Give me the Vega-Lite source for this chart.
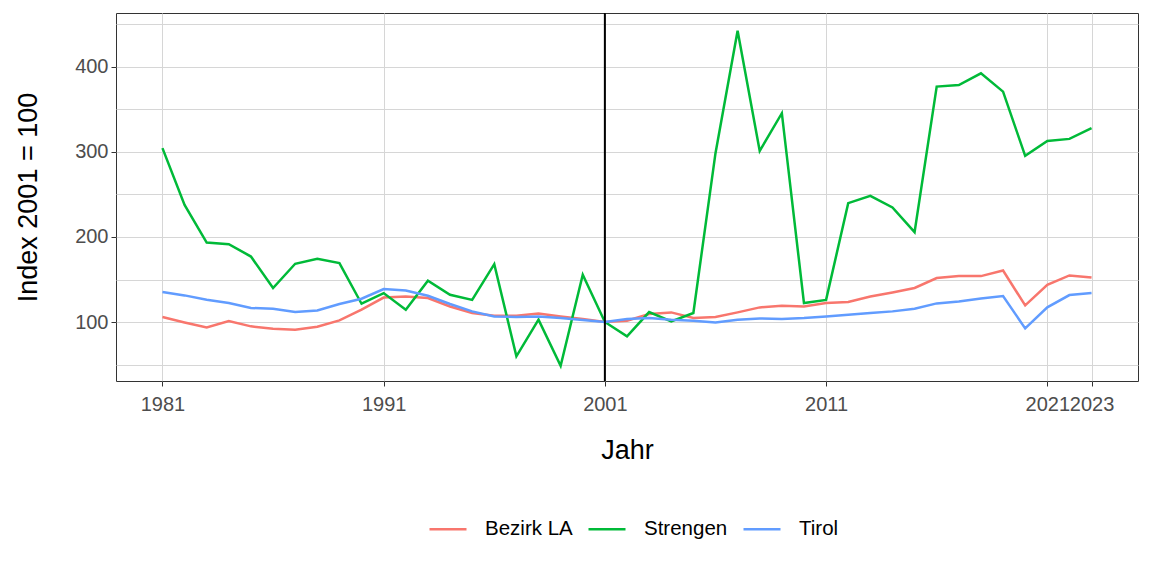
{
  "$schema": "https://vega.github.io/schema/vega-lite/v6.json",
  "width": 1022,
  "height": 368,
  "autosize": {"type": "none"},
  "padding": {"left": 116, "top": 13, "right": 14, "bottom": 195},
  "background": "white",
  "config": {
    "font": "Liberation Sans",
    "view": {"stroke": "#333333", "strokeWidth": 1},
    "axis": {
      "gridColor": "#D6D6D6",
      "gridWidth": 1,
      "domain": false,
      "tickColor": "#333333",
      "tickSize": 5,
      "tickWidth": 1,
      "labelFont": "Liberation Sans",
      "labelFontSize": 20,
      "labelColor": "#4D4D4D",
      "labelOverlap": false,
      "titleFont": "Liberation Sans",
      "titleFontSize": 27,
      "titleFontWeight": "normal",
      "titleColor": "black"
    }
  },
  "layer": [
    {
      "data": {
        "values": [
          {"Jahr": 1981, "Region": "Bezirk LA", "Index": 105.9},
          {"Jahr": 1982, "Region": "Bezirk LA", "Index": 99.5},
          {"Jahr": 1983, "Region": "Bezirk LA", "Index": 93.7},
          {"Jahr": 1984, "Region": "Bezirk LA", "Index": 101.2},
          {"Jahr": 1985, "Region": "Bezirk LA", "Index": 94.9},
          {"Jahr": 1986, "Region": "Bezirk LA", "Index": 92.0},
          {"Jahr": 1987, "Region": "Bezirk LA", "Index": 91.0},
          {"Jahr": 1988, "Region": "Bezirk LA", "Index": 94.5},
          {"Jahr": 1989, "Region": "Bezirk LA", "Index": 101.9},
          {"Jahr": 1990, "Region": "Bezirk LA", "Index": 114.5},
          {"Jahr": 1991, "Region": "Bezirk LA", "Index": 128.7},
          {"Jahr": 1992, "Region": "Bezirk LA", "Index": 130.0},
          {"Jahr": 1993, "Region": "Bezirk LA", "Index": 128.2},
          {"Jahr": 1994, "Region": "Bezirk LA", "Index": 118.3},
          {"Jahr": 1995, "Region": "Bezirk LA", "Index": 110.6},
          {"Jahr": 1996, "Region": "Bezirk LA", "Index": 107.4},
          {"Jahr": 1997, "Region": "Bezirk LA", "Index": 107.4},
          {"Jahr": 1998, "Region": "Bezirk LA", "Index": 110.0},
          {"Jahr": 1999, "Region": "Bezirk LA", "Index": 106.6},
          {"Jahr": 2000, "Region": "Bezirk LA", "Index": 103.5},
          {"Jahr": 2001, "Region": "Bezirk LA", "Index": 100.0},
          {"Jahr": 2002, "Region": "Bezirk LA", "Index": 101.5},
          {"Jahr": 2003, "Region": "Bezirk LA", "Index": 109.4},
          {"Jahr": 2004, "Region": "Bezirk LA", "Index": 111.3},
          {"Jahr": 2005, "Region": "Bezirk LA", "Index": 104.7},
          {"Jahr": 2006, "Region": "Bezirk LA", "Index": 105.9},
          {"Jahr": 2007, "Region": "Bezirk LA", "Index": 111.3},
          {"Jahr": 2008, "Region": "Bezirk LA", "Index": 117.2},
          {"Jahr": 2009, "Region": "Bezirk LA", "Index": 119.2},
          {"Jahr": 2010, "Region": "Bezirk LA", "Index": 118.3},
          {"Jahr": 2011, "Region": "Bezirk LA", "Index": 122.3},
          {"Jahr": 2012, "Region": "Bezirk LA", "Index": 123.5},
          {"Jahr": 2013, "Region": "Bezirk LA", "Index": 130.0},
          {"Jahr": 2014, "Region": "Bezirk LA", "Index": 134.8},
          {"Jahr": 2015, "Region": "Bezirk LA", "Index": 140.0},
          {"Jahr": 2016, "Region": "Bezirk LA", "Index": 151.7},
          {"Jahr": 2017, "Region": "Bezirk LA", "Index": 154.0},
          {"Jahr": 2018, "Region": "Bezirk LA", "Index": 154.0},
          {"Jahr": 2019, "Region": "Bezirk LA", "Index": 160.6},
          {"Jahr": 2020, "Region": "Bezirk LA", "Index": 119.5},
          {"Jahr": 2021, "Region": "Bezirk LA", "Index": 143.8},
          {"Jahr": 2022, "Region": "Bezirk LA", "Index": 154.8},
          {"Jahr": 2023, "Region": "Bezirk LA", "Index": 152.4},
          {"Jahr": 1981, "Region": "Strengen", "Index": 304.5},
          {"Jahr": 1982, "Region": "Strengen", "Index": 237.8},
          {"Jahr": 1983, "Region": "Strengen", "Index": 193.5},
          {"Jahr": 1984, "Region": "Strengen", "Index": 191.6},
          {"Jahr": 1985, "Region": "Strengen", "Index": 177.0},
          {"Jahr": 1986, "Region": "Strengen", "Index": 140.0},
          {"Jahr": 1987, "Region": "Strengen", "Index": 168.5},
          {"Jahr": 1988, "Region": "Strengen", "Index": 174.4},
          {"Jahr": 1989, "Region": "Strengen", "Index": 169.3},
          {"Jahr": 1990, "Region": "Strengen", "Index": 121.5},
          {"Jahr": 1991, "Region": "Strengen", "Index": 134.0},
          {"Jahr": 1992, "Region": "Strengen", "Index": 114.5},
          {"Jahr": 1993, "Region": "Strengen", "Index": 148.5},
          {"Jahr": 1994, "Region": "Strengen", "Index": 132.0},
          {"Jahr": 1995, "Region": "Strengen", "Index": 126.0},
          {"Jahr": 1996, "Region": "Strengen", "Index": 168.0},
          {"Jahr": 1997, "Region": "Strengen", "Index": 59.6},
          {"Jahr": 1998, "Region": "Strengen", "Index": 102.7},
          {"Jahr": 1999, "Region": "Strengen", "Index": 48.6},
          {"Jahr": 2000, "Region": "Strengen", "Index": 155.6},
          {"Jahr": 2001, "Region": "Strengen", "Index": 100.0},
          {"Jahr": 2002, "Region": "Strengen", "Index": 83.1},
          {"Jahr": 2003, "Region": "Strengen", "Index": 111.7},
          {"Jahr": 2004, "Region": "Strengen", "Index": 100.7},
          {"Jahr": 2005, "Region": "Strengen", "Index": 110.6},
          {"Jahr": 2006, "Region": "Strengen", "Index": 298.6},
          {"Jahr": 2007, "Region": "Strengen", "Index": 442.7},
          {"Jahr": 2008, "Region": "Strengen", "Index": 301.3},
          {"Jahr": 2009, "Region": "Strengen", "Index": 345.6},
          {"Jahr": 2010, "Region": "Strengen", "Index": 122.3},
          {"Jahr": 2011, "Region": "Strengen", "Index": 126.0},
          {"Jahr": 2012, "Region": "Strengen", "Index": 239.8},
          {"Jahr": 2013, "Region": "Strengen", "Index": 248.4},
          {"Jahr": 2014, "Region": "Strengen", "Index": 234.7},
          {"Jahr": 2015, "Region": "Strengen", "Index": 205.7},
          {"Jahr": 2016, "Region": "Strengen", "Index": 376.9},
          {"Jahr": 2017, "Region": "Strengen", "Index": 378.8},
          {"Jahr": 2018, "Region": "Strengen", "Index": 392.6},
          {"Jahr": 2019, "Region": "Strengen", "Index": 371.0},
          {"Jahr": 2020, "Region": "Strengen", "Index": 295.4},
          {"Jahr": 2021, "Region": "Strengen", "Index": 313.0},
          {"Jahr": 2022, "Region": "Strengen", "Index": 315.4},
          {"Jahr": 2023, "Region": "Strengen", "Index": 328.0},
          {"Jahr": 1981, "Region": "Tirol", "Index": 135.3},
          {"Jahr": 1982, "Region": "Tirol", "Index": 131.3},
          {"Jahr": 1983, "Region": "Tirol", "Index": 126.2},
          {"Jahr": 1984, "Region": "Tirol", "Index": 122.3},
          {"Jahr": 1985, "Region": "Tirol", "Index": 116.5},
          {"Jahr": 1986, "Region": "Tirol", "Index": 115.6},
          {"Jahr": 1987, "Region": "Tirol", "Index": 111.8},
          {"Jahr": 1988, "Region": "Tirol", "Index": 113.6},
          {"Jahr": 1989, "Region": "Tirol", "Index": 121.2},
          {"Jahr": 1990, "Region": "Tirol", "Index": 127.4},
          {"Jahr": 1991, "Region": "Tirol", "Index": 138.8},
          {"Jahr": 1992, "Region": "Tirol", "Index": 137.1},
          {"Jahr": 1993, "Region": "Tirol", "Index": 130.9},
          {"Jahr": 1994, "Region": "Tirol", "Index": 121.2},
          {"Jahr": 1995, "Region": "Tirol", "Index": 112.5},
          {"Jahr": 1996, "Region": "Tirol", "Index": 106.6},
          {"Jahr": 1997, "Region": "Tirol", "Index": 105.9},
          {"Jahr": 1998, "Region": "Tirol", "Index": 106.6},
          {"Jahr": 1999, "Region": "Tirol", "Index": 104.7},
          {"Jahr": 2000, "Region": "Tirol", "Index": 102.3},
          {"Jahr": 2001, "Region": "Tirol", "Index": 100.0},
          {"Jahr": 2002, "Region": "Tirol", "Index": 103.5},
          {"Jahr": 2003, "Region": "Tirol", "Index": 104.7},
          {"Jahr": 2004, "Region": "Tirol", "Index": 102.7},
          {"Jahr": 2005, "Region": "Tirol", "Index": 101.5},
          {"Jahr": 2006, "Region": "Tirol", "Index": 99.5},
          {"Jahr": 2007, "Region": "Tirol", "Index": 102.7},
          {"Jahr": 2008, "Region": "Tirol", "Index": 104.2},
          {"Jahr": 2009, "Region": "Tirol", "Index": 103.5},
          {"Jahr": 2010, "Region": "Tirol", "Index": 104.7},
          {"Jahr": 2011, "Region": "Tirol", "Index": 106.6},
          {"Jahr": 2012, "Region": "Tirol", "Index": 108.6},
          {"Jahr": 2013, "Region": "Tirol", "Index": 110.6},
          {"Jahr": 2014, "Region": "Tirol", "Index": 112.5},
          {"Jahr": 2015, "Region": "Tirol", "Index": 115.6},
          {"Jahr": 2016, "Region": "Tirol", "Index": 121.9},
          {"Jahr": 2017, "Region": "Tirol", "Index": 124.2},
          {"Jahr": 2018, "Region": "Tirol", "Index": 127.7},
          {"Jahr": 2019, "Region": "Tirol", "Index": 130.5},
          {"Jahr": 2020, "Region": "Tirol", "Index": 92.5},
          {"Jahr": 2021, "Region": "Tirol", "Index": 117.2},
          {"Jahr": 2022, "Region": "Tirol", "Index": 131.7},
          {"Jahr": 2023, "Region": "Tirol", "Index": 134.0}
        ]
      },
      "mark": {"type": "line", "strokeWidth": 2.5, "clip": true},
      "encoding": {
        "x": {
          "field": "Jahr",
          "type": "quantitative",
          "scale": {"domain": [1978.9, 2025.1], "nice": false, "zero": false},
          "axis": {
            "values": [1981, 1991, 2001, 2011, 2021, 2023],
            "format": "d",
            "title": "Jahr",
            "labelPadding": 8,
            "labelFlush": false,
            "titlePadding": 23
          }
        },
        "y": {
          "field": "Index",
          "type": "quantitative",
          "scale": {"domain": [30.6, 463.5], "nice": false, "zero": false},
          "axis": {
            "values": [50, 100, 150, 200, 250, 300, 350, 400, 450],
            "labelExpr": "datum.value % 100 == 0 ? datum.label : ''",
            "tickOpacity": {"condition": {"test": "datum.value % 100 != 0", "value": 0}, "value": 1},
            "title": "Index 2001 = 100",
            "labelPadding": 3,
            "titlePadding": 32
          }
        },
        "color": {
          "field": "Region",
          "type": "nominal",
          "scale": {"domain": ["Bezirk LA", "Strengen", "Tirol"], "range": ["#F8766D", "#00BA38", "#619CFF"]},
          "legend": {
            "title": null,
            "orient": "none",
            "legendX": 312,
            "legendY": 496,
            "direction": "horizontal",
            "symbolType": "stroke",
            "symbolSize": 1369,
            "symbolStrokeWidth": 2.6,
            "labelFont": "Liberation Sans",
            "labelFontSize": 20.5,
            "labelColor": "black",
            "labelOffset": 17,
            "columnPadding": 10
          }
        }
      }
    },
    {
      "data": {"values": [{"Jahr": 2001}]},
      "mark": {"type": "rule", "color": "black", "strokeWidth": 2},
      "encoding": {"x": {"field": "Jahr", "type": "quantitative"}}
    }
  ]
}
